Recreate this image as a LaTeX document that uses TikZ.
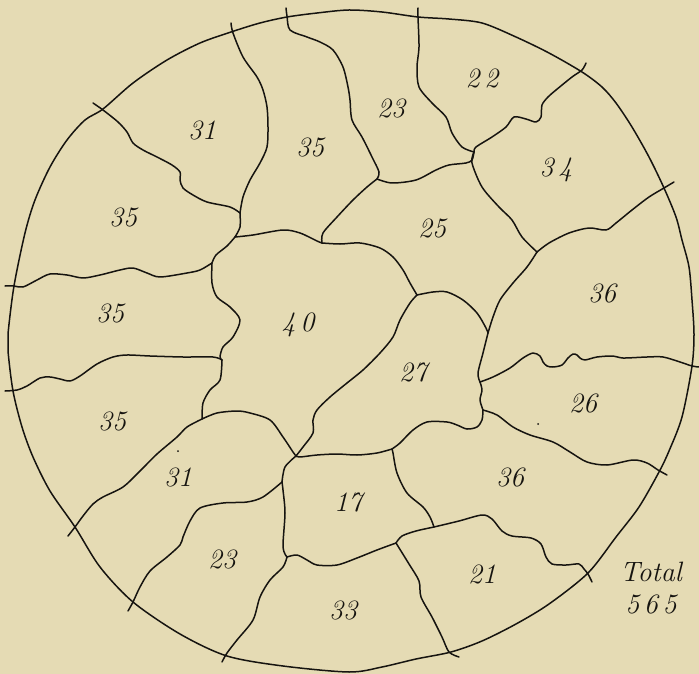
\documentclass[tikz,border=0pt]{standalone}
\usepackage{tikz}
\definecolor{paper}{RGB}{229,219,180}
\definecolor{ink}{RGB}{22,20,16}
\tikzset{
  border/.style={draw=ink,line width=1.5pt,line join=round,line cap=round},
  count/.style={font=\fontsize{28}{28}\selectfont\itshape,text=ink,inner sep=0pt},
  speck/.style={fill=ink}
}
\begin{document}
\begin{tikzpicture}[x=1pt,y=-1pt]
\fill[paper] (0,0) rectangle (699,674);
\useasboundingbox (0,0) rectangle (699,674);

\draw[border] plot[smooth cycle] coordinates {
  (349,10) (382,12) (418,17) (449,19) (482,23) (516,37) (549,53) (582,72)
  (602,87) (616,103) (632,127) (649,157) (664,188) (676,217) (682,240)
  (689,267) (692,300) (694,334) (692,366) (682,417) (669,451) (659,472)
  (639,507) (616,537) (588,573) (549,604) (516,624) (482,641) (451,652)
  (416,659) (382,667) (349,672) (283,666) (227,656) (180,634) (133,602)
  (100,567) (75,527) (50,491) (33,457) (22,427) (13,391) (8,351) (8,334)
  (14,286) (25,233) (35,200) (50,167) (67,140) (85,120) (103,109) (133,83)
  (167,60) (200,43) (231,32) (260,23) (287,17) (317,13)};

\coordinate (j1) at (377,179);
\coordinate (j2) at (474,152);
\coordinate (j3) at (537,252);
\coordinate (j4) at (488,333);
\coordinate (j5) at (480,382);
\coordinate (j6) at (483,410);
\coordinate (j7) at (392,449);
\coordinate (j8) at (434,527);
\coordinate (j9) at (396,543);
\coordinate (j10) at (287,557);
\coordinate (j11) at (282,482);
\coordinate (j12) at (296,456);
\coordinate (j13) at (202,419);
\coordinate (j14) at (222,360);
\coordinate (j15) at (212,263);
\coordinate (j16) at (240,213);
\coordinate (j17) at (235,237);
\coordinate (j18) at (322,243);
\coordinate (j19) at (417,295);

\coordinate (t1) at (231,23);
\coordinate (t2) at (286,8);
\coordinate (t3) at (418,8);
\coordinate (t4) at (586,63);
\coordinate (t5) at (674,182);
\coordinate (t6) at (699,367);
\coordinate (t7) at (667,475);
\coordinate (t8) at (592,582);
\coordinate (t9) at (459,657);
\coordinate (t10) at (222,662);
\coordinate (t11) at (128,611);
\coordinate (t12) at (68,536);
\coordinate (t13) at (5,391);
\coordinate (t14) at (5,286);
\coordinate (t15) at (93,103);

\draw[border] plot[smooth] coordinates {(j16) (243,197) (250,180) (260,163) (267,147)
  (268,127) (267,107) (263,90) (257,77) (243,57) (233,33) (t1)};
\draw[border] plot[smooth] coordinates {(j1) (379,172) (372,157) (362,137) (352,120)
  (350,100) (348,87) (343,67) (333,50) (320,42) (307,37) (290,30) (287,16) (t2)};
\draw[border] plot[smooth] coordinates {(j2) (462,147) (452,133) (446,117) (432,103)
  (419,87) (417,67) (419,47) (418,17) (t3)};
\draw[border] plot[smooth] coordinates {(j2) (476,147) (492,137) (506,127) (514,117)
  (526,119) (536,122) (541,117) (542,105) (548,97) (556,90) (572,77) (582,70) (t4)};
\draw[border] plot[smooth] coordinates {(j3) (549,243) (569,233) (589,228) (606,230)
  (616,223) (632,210) (649,197) (664,188) (t5)};
\draw[border] plot[smooth] coordinates {(j5) (493,377) (510,368) (523,358) (533,353)
  (540,356) (543,362) (547,366) (553,367) (562,365) (568,358) (573,354) (577,355)
  (580,358) (585,360) (597,357) (613,356) (623,358) (647,357) (663,357) (680,362)
  (692,366) (t6)};
\draw[border] plot[smooth] coordinates {(j6) (497,415) (513,427) (530,435) (553,442)
  (570,452) (587,462) (607,465) (633,460) (647,463) (658,470) (t7)};
\draw[border] plot[smooth] coordinates {(j8) (459,521) (482,515) (492,519) (502,531)
  (512,536) (531,538) (541,544) (546,557) (552,564) (566,565) (579,564) (584,569)
  (588,574) (t8)};
\draw[border] plot[smooth] coordinates {(j9) (409,564) (419,581) (421,597) (432,617)
  (442,637) (449,652) (t9)};
\draw[border] plot[smooth] coordinates {(j10) (283,567) (270,580) (260,597) (253,620)
  (237,640) (227,653) (t10)};
\draw[border] plot[smooth] coordinates {(j11) (263,497) (247,502) (223,503) (200,508)
  (190,521) (183,537) (180,545) (167,557) (150,571) (140,587) (133,602) (t11)};
\draw[border] plot[smooth] coordinates {(j13) (187,427) (177,437) (157,454) (140,471)
  (123,487) (103,497) (93,504) (83,516) (75,527) (t12)};
\draw[border] plot[smooth] coordinates {(j14) (213,357) (183,357) (150,356) (127,355)
  (113,357) (97,364) (80,376) (70,381) (60,379) (50,377) (40,378) (27,386) (17,390)
  (t13)};
\draw[border] plot[smooth] coordinates {(j15) (200,270) (187,273) (160,277) (147,273)
  (133,268) (120,270) (100,275) (83,278) (67,275) (50,274) (37,280) (23,287) (14,286)
  (t14)};
\draw[border] plot[smooth] coordinates {(j16) (230,207) (207,202) (193,195) (183,188)
  (180,180) (180,172) (172,165) (157,157) (143,150) (133,143) (127,132) (118,122)
  (103,110) (t15)};

\draw[border] plot[smooth] coordinates {(j1) (392,183) (416,180) (436,170) (449,165)
  (466,163) (472,160) (j2)};
\draw[border] plot[smooth] coordinates {(j2) (472,163) (482,187) (499,207) (512,220)
  (522,237) (j3)};
\draw[border] plot[smooth] coordinates {(j3) (527,267) (513,283) (500,300) (493,317) (j4)};
\draw[border] plot[smooth] coordinates {(j4) (483,353) (478,373) (j5)};
\draw[border] plot[smooth] coordinates {(j5) (482,390) (480,400) (j6)};
\draw[border] plot[smooth] coordinates {(j6) (482,420) (477,427) (467,429) (457,425)
  (447,422) (427,422) (413,430) (400,443) (j7)};
\draw[border] plot[smooth] coordinates {(j7) (393,453) (397,473) (407,493) (423,507)
  (430,517) (j8)};
\draw[border] plot[smooth] coordinates {(j8) (416,531) (402,536) (j9)};
\draw[border] plot[smooth] coordinates {(j9) (377,550) (357,558) (337,565) (317,565)
  (307,560) (297,555) (j10)};
\draw[border] plot[smooth] coordinates {(j10) (283,547) (285,513) (283,490) (j11)};
\draw[border] plot[smooth] coordinates {(j11) (285,467) (j12)};
\draw[border] plot[smooth] coordinates {(j12) (300,457) (317,455) (337,454) (357,455)
  (377,453) (j7)};
\draw[border] plot[smooth] coordinates {(j12) (303,447) (313,433) (313,420) (317,410)
  (330,397) (347,383) (363,370) (380,353) (393,337) (400,320) (410,303) (j19)};
\draw[border] plot[smooth] coordinates {(j19) (433,292) (447,292) (463,300) (477,313)
  (486,328) (j4)};
\draw[border] plot[smooth] coordinates {(j19) (410,283) (403,270) (393,257) (380,248)
  (360,243) (340,244) (j18)};
\draw[border] plot[smooth] coordinates {(j18) (323,233) (337,217) (353,200) (367,187) (j1)};
\draw[border] plot[smooth] coordinates {(j18) (317,241) (300,233) (283,230) (253,235) (j17)};
\draw[border] plot[smooth] coordinates {(j17) (240,227) (j16)};
\draw[border] plot[smooth] coordinates {(j17) (227,246) (216,255) (j15)};
\draw[border] plot[smooth] coordinates {(j15) (212,283) (217,297) (230,307) (240,320)
  (233,337) (223,347) (220,357) (j14)};
\draw[border] plot[smooth] coordinates {(j14) (220,380) (210,390) (203,403) (j13)};
\draw[border] plot[smooth] coordinates {(j13) (217,413) (237,411) (250,413) (270,420)
  (283,437) (293,452) (j12)};

\fill[speck] (178,451) circle (1);
\fill[speck] (538,424) circle (1);

\node[count] (r22) at (482,78) {2\,2};
\node[count] (r23a) at (391,108) {23};
\node[count] (r34) at (556,170) {3\,4};
\node[count] (r25) at (432,228) {25};
\node[count] (r36a) at (602,293) {36};
\node[count] (r31a) at (202,130) {31};
\node[count] (r35a) at (310,147) {35};
\node[count] (r35b) at (123,217) {35};
\node[count] (r35c) at (110,313) {35};
\node[count] (r40) at (298,325) {4\,0};
\node[count] (r35d) at (112,421) {35};
\node[count] (r31b) at (178,477) {31};
\node[count] (r23b) at (222,559) {23};
\node[count] (r33) at (343,610) {33};
\node[count] (r17) at (348,502) {17};
\node[count] (r27) at (413,372) {27};
\node[count] (r26) at (583,403) {26};
\node[count] (r36b) at (510,477) {36};
\node[count] (r21) at (482,574) {21};
\node[count,align=center,font=\fontsize{28}{32}\selectfont\itshape] (total) at (651,588) {Total\\5\,6\,5};
\end{tikzpicture}
\end{document}
